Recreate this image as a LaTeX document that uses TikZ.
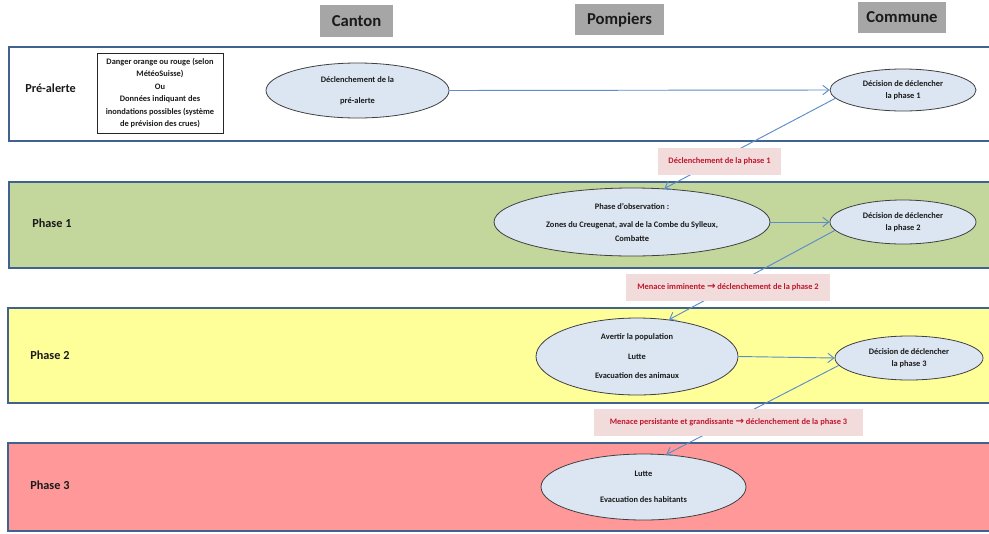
\documentclass[tikz,border=0pt]{standalone}
\usepackage{fontspec}
\setmainfont{Carlito}
\newfontfamily\symfont{DejaVu Sans}
\usetikzlibrary{arrows.meta,shapes.geometric}

\definecolor{rowline}{HTML}{41628F}
\definecolor{bubblefill}{HTML}{DCE6F2}
\definecolor{flowblue}{HTML}{5B8CCB}
\definecolor{triggerfill}{HTML}{F2DCDB}
\definecolor{triggerred}{HTML}{C0152F}
\definecolor{headgray}{HTML}{A6A6A6}
\definecolor{phaseone}{HTML}{C3D69B}
\definecolor{phasetwo}{HTML}{FFFF99}
\definecolor{phasethree}{HTML}{FF9999}
\definecolor{ink}{HTML}{1A1A1A}

\newdimen\unitpx
\unitpx=0.75pt

% heavy arrow used inside the trigger labels
\newcommand\thenarrow{{\symfont\bfseries\fontsize{7.6}{8}\selectfont →}}

\tikzset{
  phaserow/.style={draw=rowline, line width=1.9pt},
  rowlabel/.style={anchor=west, text=ink, inner sep=0pt,
    font=\bfseries\fontsize{9.2}{11}\selectfont},
  bubble/.style={ellipse, draw=black!75, line width=0.6pt, fill=bubblefill,
    inner sep=0pt, align=center, text=ink,
    font=\bfseries\fontsize{6.3}{9.4}\selectfont},
  condbox/.style={draw=black!85, line width=0.6pt, fill=white, inner sep=0pt,
    align=center, text=ink, font=\bfseries\fontsize{6.3}{9.3}\selectfont},
  trigger/.style={fill=triggerfill, text=triggerred, inner sep=0pt,
    font=\bfseries\fontsize{6.3}{8}\selectfont},
  header/.style={fill=headgray, inner sep=0pt, text=ink,
    font=\bfseries\fontsize{12.5}{15}\selectfont},
  flow/.style={draw=flowblue, line width=0.7pt,
    -{Straight Barb[length=4.5pt,width=7pt]}},
}

\begin{document}
\begin{tikzpicture}[x=0.75pt,y=-0.75pt]
\useasboundingbox (0,0) rectangle (989,533);
\clip (0,0) rectangle (989,533);

% column headers
\node[header, minimum width=73*\unitpx, minimum height=32*\unitpx] (canton) at (356.5,21) {Canton};
\node[header, minimum width=89*\unitpx, minimum height=31*\unitpx] (pompiers) at (619.5,19.5) {Pompiers};
\node[header, minimum width=88*\unitpx, minimum height=31*\unitpx] (commune) at (902,17.5) {Commune};

% phase bands
\draw[phaserow, fill=white]      (9,47)  rectangle (1000,141);
\draw[phaserow, fill=phaseone]   (9,182) rectangle (1000,268);
\draw[phaserow, fill=phasetwo]   (8,308) rectangle (1000,403);
\draw[phaserow, fill=phasethree] (8,443) rectangle (1000,531);

\node[rowlabel] (lpre) at (25,88)  {Pré-alerte};
\node[rowlabel] (lp1)  at (32,223) {Phase 1};
\node[rowlabel] (lp2)  at (30,355) {Phase 2};
\node[rowlabel] (lp3)  at (30,485) {Phase 3};

% pre-alert conditions
\node[condbox, minimum width=126*\unitpx, minimum height=80*\unitpx] (cond) at (160,93)
  {Danger orange ou rouge (selon\\MétéoSuisse)\\Ou\\Données indiquant des\\inondations possibles (système\\de prévision des crues)};

% actions
\node[bubble, minimum width=183*\unitpx, minimum height=55*\unitpx] (pre) at (357.5,90.5)
  {Déclenchement de la\\[6.3pt]pré-alerte};
\node[bubble, minimum width=146*\unitpx, minimum height=42*\unitpx] (c1) at (903,90)
  {Décision de déclencher\\la phase 1};

\node[bubble, minimum width=276*\unitpx, minimum height=68*\unitpx] (obs) at (632,222)
  {Phase d’observation :\\[4.1pt]Zones du Creugenat, aval de la Combe du Sylleux,\\[1.1pt]Combatte};
\node[bubble, minimum width=146*\unitpx, minimum height=44*\unitpx] (c2) at (903,222)
  {Décision de déclencher\\la phase 2};

\node[bubble, minimum width=202*\unitpx, minimum height=77*\unitpx] (ph2) at (637,356.5)
  {Avertir la population\\[5.2pt]Lutte\\[5.2pt]Evacuation des animaux};
\node[bubble, minimum width=148*\unitpx, minimum height=44*\unitpx] (c3) at (909,358)
  {Décision de déclencher\\la phase 3};

\node[bubble, minimum width=205*\unitpx, minimum height=66*\unitpx] (ph3) at (643.5,487)
  {Lutte\\[10.1pt]Evacuation des habitants};

% connectors
\draw[flow] (pre.east) -- (c1.west);
\draw[flow] (c1.187) -- (obs.46);
\draw[flow] (obs.east) -- (c2.west);
\draw[flow] (c2.187) -- (ph2.49);
\draw[flow] (ph2.east) -- (c3.west);
\draw[flow] (c3.186) -- (ph3.55);

% trigger labels laid over the connectors
\node[trigger, minimum width=123*\unitpx, minimum height=27*\unitpx] (t1) at (719.5,161.5)
  {Déclenchement de la phase 1};
\node[trigger, minimum width=204*\unitpx, minimum height=27*\unitpx] (t2) at (728,287.5)
  {Menace imminente \thenarrow{} déclenchement de la phase 2};
\node[trigger, minimum width=269*\unitpx, minimum height=27*\unitpx] (t3) at (728.5,422)
  {Menace persistante et grandissante \thenarrow{} déclenchement de la phase 3};
\end{tikzpicture}
\end{document}
